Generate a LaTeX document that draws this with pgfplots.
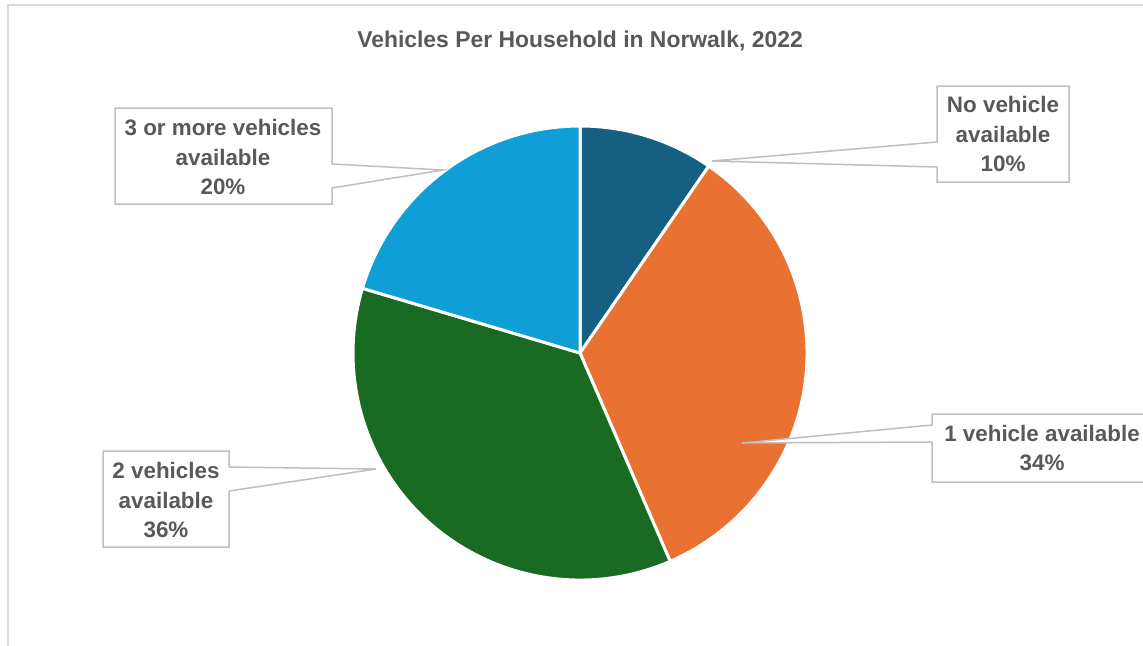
\documentclass[border=0pt]{standalone}
\usepackage{pgfplots}
\usepackage{pgfplotstable}
\pgfplotsset{compat=1.18}
\usepackage{fontspec}
\setmainfont{Liberation Sans}
\definecolor{txt}{HTML}{595959}
\definecolor{cNo}{HTML}{156082}
\definecolor{cOne}{HTML}{E97132}
\definecolor{cTwo}{HTML}{196B24}
\definecolor{cThree}{HTML}{0F9ED5}
\definecolor{callout}{HTML}{BFBFBF}
\definecolor{chartframe}{HTML}{D9D9D9}

% shares of households (percent), clockwise from 12 o'clock
\pgfplotstableread{
idx share
0 9.6
1 33.9
2 36.1
3 20.4
}\shares

\pgfplotstablegetelem{0}{share}\of\shares \let\sA\pgfplotsretval
\pgfplotstablegetelem{1}{share}\of\shares \let\sB\pgfplotsretval
\pgfplotstablegetelem{2}{share}\of\shares \let\sC\pgfplotsretval
\pgfplotstablegetelem{3}{share}\of\shares \let\sD\pgfplotsretval
\pgfmathsetmacro\aA{90}
\pgfmathsetmacro\aB{\aA-3.6*\sA}
\pgfmathsetmacro\aC{\aB-3.6*\sB}
\pgfmathsetmacro\aD{\aC-3.6*\sC}
\pgfmathsetmacro\aE{\aD-3.6*\sD}

\newcommand\pieslice[3]{%
  \fill[#3, draw=white, line width=1.5pt, line join=round]
    (axis cs:580,292) -- ([shift={(#1:113.5pt)}]axis cs:580,292)
    arc[start angle=#1, end angle=#2, radius=113.5pt] -- cycle;}

\begin{document}
\begin{tikzpicture}
\begin{axis}[name=ax, scale only axis, width=571.5pt, height=322.5pt,
  xmin=0, xmax=1143, ymin=0, ymax=645, hide axis, clip=false]
  % chart frame
  \draw[chartframe, line width=1pt] (axis cs:8,-20) -- (axis cs:8,640) -- (axis cs:1170,640);
  % title
  \node[txt, font=\fontsize{11.45}{13}\selectfont\bfseries] at (axis cs:580,604)
    {Vehicles Per Household in Norwalk, 2022};
  % pie
  \pieslice{\aA}{\aB}{cNo}
  \pieslice{\aB}{\aC}{cOne}
  \pieslice{\aC}{\aD}{cTwo}
  \pieslice{\aD}{\aE}{cThree}
  % callouts
  \draw[callout, fill=white, line width=0.75pt]
    (axis cs:937,559) -- (axis cs:1069,559) -- (axis cs:1069,463) -- (axis cs:937,463)
    -- (axis cs:937,478) -- (axis cs:712,484) -- (axis cs:937,503) -- cycle;
  \node[txt, align=center, font=\fontsize{11.2}{14.75}\selectfont\bfseries] at (axis cs:1003,511)
    {No vehicle\\available\\10\%};
  \draw[callout, fill=white, line width=0.75pt]
    (axis cs:115,537) -- (axis cs:332,537) -- (axis cs:332,481) -- (axis cs:443,475)
    -- (axis cs:332,457) -- (axis cs:332,441) -- (axis cs:115,441) -- cycle;
  \node[txt, align=center, font=\fontsize{11.2}{14.75}\selectfont\bfseries] at (axis cs:223,488)
    {3 or more vehicles\\available\\20\%};
  \draw[callout, fill=white, line width=0.75pt]
    (axis cs:103,194) -- (axis cs:229,194) -- (axis cs:229,178) -- (axis cs:376,176)
    -- (axis cs:229,154) -- (axis cs:229,98) -- (axis cs:103,98) -- cycle;
  \node[txt, align=center, font=\fontsize{11.2}{14.75}\selectfont\bfseries] at (axis cs:166,145)
    {2 vehicles\\available\\36\%};
  \draw[callout, fill=white, line width=0.75pt]
    (axis cs:932,231) -- (axis cs:1190,231) -- (axis cs:1190,163) -- (axis cs:932,163)
    -- (axis cs:932,203) -- (axis cs:742,202) -- (axis cs:932,220) -- cycle;
  \node[txt, align=center, font=\fontsize{11.2}{14.75}\selectfont\bfseries] at (axis cs:1042,197)
    {1 vehicle available\\34\%};
\end{axis}
\pgfresetboundingbox
\useasboundingbox (ax.south west) rectangle (ax.north east);
\end{tikzpicture}
\end{document}
